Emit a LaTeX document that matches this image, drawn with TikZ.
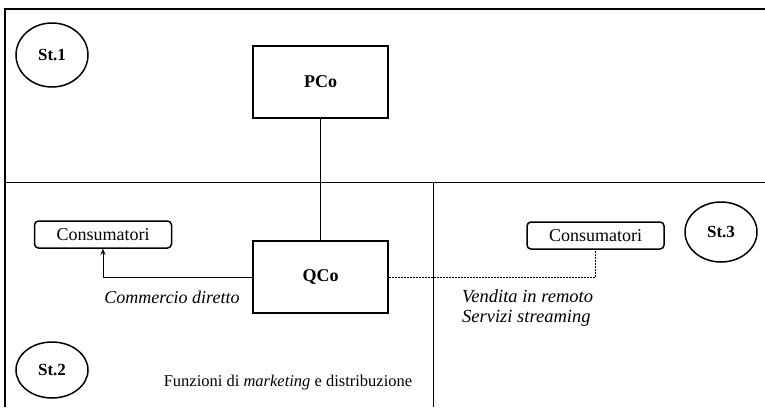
\documentclass[tikz,border=0pt]{standalone}
\usepackage{fontspec}
\setmainfont{Liberation Serif}
\usetikzlibrary{shapes.geometric,arrows.meta}
\newcommand{\basefont}{\fontsize{18}{21}\selectfont}
\tikzset{
  frameline/.style={line width=1.8pt},
  divline/.style={line width=1pt},
  cobox/.style={draw,line width=1.8pt,minimum width=135pt,minimum height=72pt,inner sep=0pt,font=\basefont\bfseries},
  consbox/.style={draw,line width=1.5pt,rounded corners=4pt,minimum width=137pt,minimum height=27pt,inner sep=0pt},
  stage/.style={draw,ellipse,line width=1.5pt,inner sep=0pt,font=\fontsize{17}{20}\selectfont\bfseries},
  conn/.style={line width=1pt},
  lbl/.style={inner sep=0pt}
}
\begin{document}
\begin{tikzpicture}[x=1pt,y=-1pt,font=\basefont]
\useasboundingbox (0,0) rectangle (765,407);
% frame
\draw[frameline] (5,407) -- (5,9) -- (765,9);
\draw[divline] (5,182) -- (765,182);
\draw[divline] (433,182) -- (433,407);
% stages
\node[stage,minimum width=72pt,minimum height=64pt] (st1) at (52,55) {St.1};
\node[stage,minimum width=72pt,minimum height=56pt] (st2) at (52,370) {St.2};
\node[stage,minimum width=72pt,minimum height=60pt] (st3) at (721,232) {St.3};
% companies
\node[cobox] (pco) at (320.5,82) {PCo};
\node[cobox] (qco) at (320.5,277) {QCo};
% consumers
\node[consbox] (cons1) at (103,234.5) {Consumatori};
\node[consbox] (cons2) at (595.5,235.5) {Consumatori};
% connectors
\draw[conn] (pco.south) -- (qco.north);
\draw[conn,-{Stealth[length=6pt,width=5pt]}] (qco.west) -- (cons1.south |- qco.west) -- (cons1.south);
\draw[conn,dashed,dash pattern=on 2pt off 1pt] (qco.east) -- (cons2.south |- qco.east) -- (cons2.south);
% labels
\node[lbl] (lcd) at (172,297) {\itshape Commercio diretto};
\node[lbl,anchor=west,align=left,font=\fontsize{18.5}{21}\selectfont] (lvr) at (462,308) {\itshape Vendita in remoto\\[-1pt]\itshape Servizi streaming};
\node[lbl,font=\fontsize{16.5}{20}\selectfont] (lfun) at (288,383) {Funzioni di \textit{marketing} e distribuzione};
\end{tikzpicture}
\end{document}
